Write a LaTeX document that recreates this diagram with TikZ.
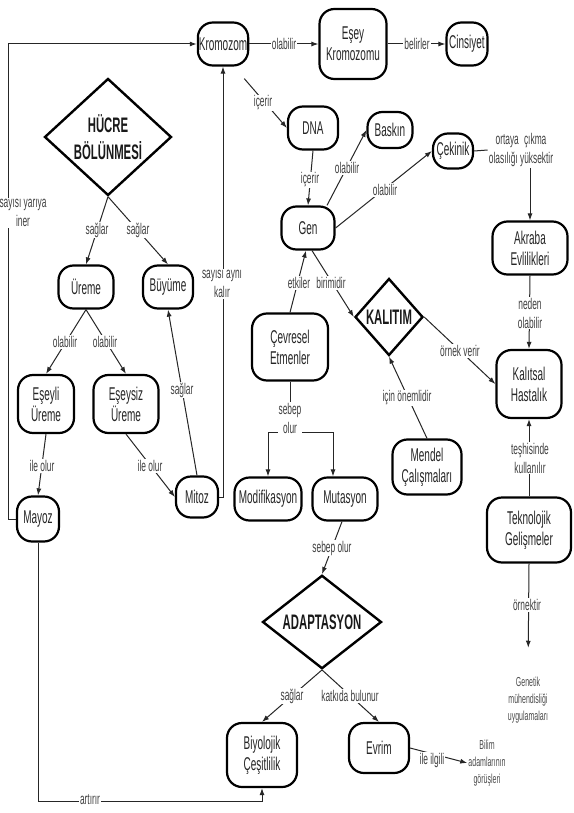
\documentclass[tikz,border=0pt]{standalone}
\usepackage{fontspec}
\setmainfont{Liberation Sans}[FakeStretch=0.54]
\usetikzlibrary{shapes.geometric,arrows.meta}
\newcommand\nodefnt{\fontsize{18.5}{21}\selectfont}
\newcommand\labfnt{\fontsize{15.5}{19}\selectfont}
\newcommand\smfnt{\fontsize{13}{17}\selectfont}
\newcommand\dmfnt{\bfseries\fontsize{21}{27}\selectfont}
\tikzset{
 box/.style={draw, line width=2.2pt, rounded corners=15pt, align=center, font=\nodefnt, inner sep=1pt, text=black!85},
 dia/.style={diamond, draw, line width=2.4pt, align=center, font=\dmfnt, inner sep=0pt, text=black!90},
 lab/.style={fill=white, inner sep=1pt, align=center, font=\labfnt, text=black!75},
 txt/.style={align=center, font=\smfnt, text=black!70, inner sep=1pt},
 con/.style={line width=1pt, draw=black!85},
 ar/.style={con, -{Latex[length=7pt,width=5pt]}},
}
\begin{document}
\begin{tikzpicture}[x=1pt,y=-1pt]
\useasboundingbox[fill=white] (0,0) rectangle (573,813);
% nodes
\node[box, minimum width=50pt, minimum height=43pt] (Krom) at (223,44) {Kromozom};
\node[box, minimum width=67pt, minimum height=70pt] (Esey) at (353,44) {Eşey\\Kromozomu};
\node[box, minimum width=41pt, minimum height=43pt] (Cins) at (467,44) {Cinsiyet};
\node[box, minimum width=50pt, minimum height=43pt] (DNA) at (313,128) {DNA};
\node[box, minimum width=45pt, minimum height=36pt] (Bask) at (390,130) {Baskın};
\node[box, minimum width=40pt, minimum height=35pt] (Cek) at (453,151) {Çekinik};
\node[box, minimum width=75pt, minimum height=53pt] (Akr) at (530,248) {Akraba\\Evlilikleri};
\node[box, minimum width=53pt, minimum height=43pt] (Gen) at (308,228) {Gen};
\node[box, minimum width=76pt, minimum height=67pt] (Cev) at (290,347) {Çevresel\\Etmenler};
\node[dia, minimum width=68pt, minimum height=77pt] (Kal) at (389,317) {KALITIM};
\node[box, minimum width=65pt, minimum height=68pt] (Kh) at (529,384) {Kalıtsal\\Hastalık};
\node[box, minimum width=69pt, minimum height=55pt] (Men) at (427,467) {Mendel\\Çalışmaları};
\node[box, minimum width=84pt, minimum height=65pt] (Tek) at (529,530) {Teknolojik\\Gelişmeler};
\node[box, minimum width=67pt, minimum height=43pt] (Mod) at (268,499) {Modifikasyon};
\node[box, minimum width=65pt, minimum height=43pt] (Mut) at (345,499) {Mutasyon};
\node[dia, minimum width=119pt, minimum height=87pt] (Ada) at (322,622) {ADAPTASYON};
\node[box, minimum width=70pt, minimum height=64pt] (Biy) at (262,755) {Biyolojik\\Çeşitlilik};
\node[box, minimum width=60pt, minimum height=50pt] (Evr) at (379,748) {Evrim};
\node[dia, minimum width=127pt, minimum height=117pt] (Huc) at (108,137) {HÜCRE\\BÖLÜNMESİ};
\node[box, minimum width=55pt, minimum height=43pt] (Ure) at (86,287) {Üreme};
\node[box, minimum width=50pt, minimum height=43pt] (Buy) at (168,287) {Büyüme};
\node[box, minimum width=56pt, minimum height=58pt] (Esl) at (46,404) {Eşeyli\\Üreme};
\node[box, minimum width=65pt, minimum height=58pt] (Ess) at (126,404) {Eşeysiz\\Üreme};
\node[box, minimum width=42pt, minimum height=45pt] (May) at (38,519) {Mayoz};
\node[box, minimum width=42pt, minimum height=41pt] (Mit) at (197,497) {Mitoz};
\node[txt] (gm) at (528,700) {Genetik\\mühendisliği\\uygulamaları};
\node[txt] (Bil) at (487,763) {Bilim\\adamlarının\\görüşleri};
\node[lab] (ort) at (521,150) {ortaya\,\,çıkma\\olasılığı yüksektir};
\coordinate (sp) at (290,432);
% connectors
\draw[ar] (Krom.east) -- (Esey.west);
\draw[ar] (Esey.east) -- (Cins.west);
\draw[ar] (May.west) -- ++(-7,0) |- (Krom.west);
\draw[ar] (May.south) -- ++(0,258.5) -| (Biy.south);
\draw[ar] ([shift={(-5,12)}]Krom.south east) -- (DNA.west);
\draw[ar] (DNA.south) -- (Gen.north);
\draw[ar] (Gen.50) -- (Bask.west);
\draw[ar] (Gen.east) -- (Cek.west);
\draw[con] (Cek.east) -- (ort.west);
\draw[ar] (ort.south -| Akr.north) -- (Akr.north);
\draw[ar] (Akr.south) -- (Kh.north);
\draw[ar] (Tek.north) -- (Kh.south);
\draw[ar, shorten >=28pt] (Tek.south) -- (gm.north);
\draw[ar] (Kal.east) -- (Kh.west);
\draw[ar] (Men.north) -- (Kal.south);
\draw[ar] ([xshift=4pt]Gen.south) -- (Kal.west);
\draw[ar] (Cev.north) -- ([xshift=-2pt]Gen.south);
\draw[con] (Cev.south) -- (sp);
\draw[ar] (sp) -| (Mod.north);
\draw[ar] (sp) -| ([xshift=-12pt]Mut.north);
\draw[ar] ([xshift=-3pt]Mut.south) -- (Ada.north);
\draw[ar] (Ada.south) -- (Biy.north);
\draw[ar] (Ada.south) -- (Evr.north);
\draw[ar] (Evr.east) -- (Bil.west);
\draw[ar] (Huc.south) -- (Ure.north);
\draw[ar] (Huc.south) -- (Buy.north);
\draw[ar] (Ure.south) -- (Esl.north);
\draw[ar] (Ure.south) -- (Ess.north);
\draw[ar] (Esl.south) -- (May.north);
\draw[ar] (Ess.south) -- (Mit.west);
\draw[ar] (Mit.north) -- (Buy.south);
\draw[ar] (Mit.east) -| (Krom.south);
% labels
\node[lab] (l1) at (284,44) {olabilir};
\node[lab] (l2) at (417,44) {belirler};
\node[lab] (l3) at (263,103) {içerir};
\node[lab] (l4) at (310,180) {içerir};
\node[lab] (l5) at (347,168) {olabilir};
\node[lab] (l6) at (385,190) {olabilir};
\node[lab] (l7) at (530,313) {neden\\olabilir};
\node[lab] (l8) at (460,351) {örnek verir};
\node[lab] (l9) at (299,283) {etkiler};
\node[lab] (l10) at (331,283) {birimidir};
\node[lab] (l11) at (407,398) {için önemlidir};
\node[lab] (l12) at (530,458) {teşhisinde\\kullanılır};
\node[lab] (l13) at (290,418) {sebep\\olur};
\node[lab] (l14) at (332,548) {sebep olur};
\node[lab] (l15) at (527,605) {örnektir};
\node[lab] (l16) at (292,696) {sağlar};
\node[lab] (l17) at (350,696) {katkıda bulunur};
\node[lab] (l18) at (432,760) {ile ilgili};
\node[lab] (l19) at (90,800) {artırır};
\node[lab] (l20) at (23,213) {sayısı yarıya\\iner};
\node[lab] (l21) at (222,284) {sayısı aynı\\kalır};
\node[lab] (l22) at (97,230) {sağlar};
\node[lab] (l23) at (138,230) {sağlar};
\node[lab] (l24) at (65,342) {olabilir};
\node[lab] (l25) at (105,342) {olabilir};
\node[lab] (l26) at (42,466) {ile olur};
\node[lab] (l27) at (150,466) {ile olur};
\node[lab] (l28) at (182,390) {sağlar};
\end{tikzpicture}
\end{document}
